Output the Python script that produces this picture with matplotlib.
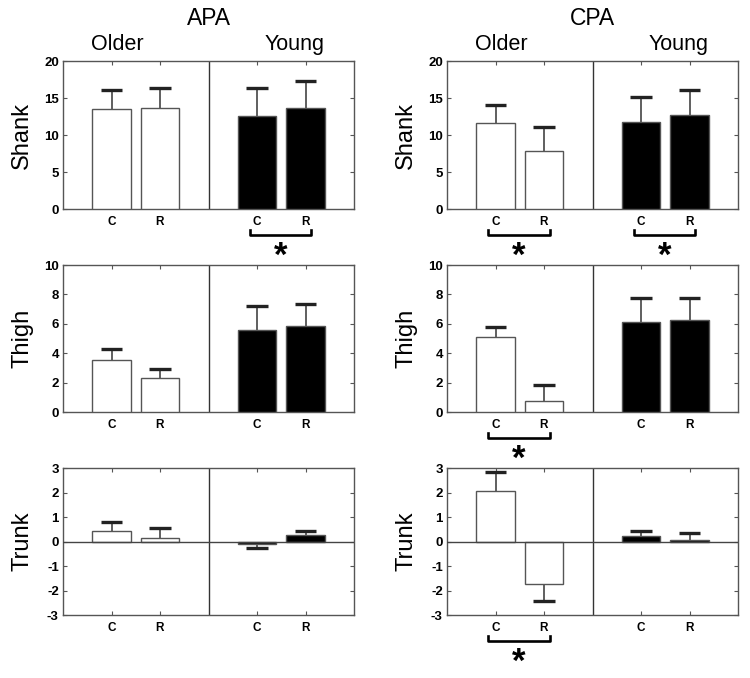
import numpy as np
import matplotlib.pyplot as plt
import matplotlib.transforms as mtransforms

plt.rcParams['font.family'] = ['Liberation Sans', 'DejaVu Sans']
plt.rcParams['axes.unicode_minus'] = False
plt.rcParams['mathtext.fontset'] = 'custom'
plt.rcParams['mathtext.it'] = 'Liberation Sans:bold'
plt.rcParams['mathtext.rm'] = 'Liberation Sans:bold'

groups = ['Older', 'Young']
conditions = ['C', 'R']
segments = ['Shank', 'Thigh', 'Trunk']
phases = ['APA', 'CPA']

# bar order: Older C, Older R, Young C, Young R
apa_shank = [13.5, 13.7, 12.6, 13.7]
apa_shank_err = [2.6, 2.6, 3.7, 3.6]
cpa_shank = [11.6, 7.9, 11.8, 12.7]
cpa_shank_err = [2.5, 3.2, 3.35, 3.45]
apa_thigh = [3.55, 2.33, 5.57, 5.84]
apa_thigh_err = [0.73, 0.63, 1.62, 1.49]
cpa_thigh = [5.1, 0.77, 6.1, 6.27]
cpa_thigh_err = [0.66, 1.06, 1.67, 1.49]
apa_trunk = [0.42, 0.14, -0.09, 0.27]
apa_trunk_err = [0.37, 0.41, 0.17, 0.15]
cpa_trunk = [2.05, -1.75, 0.23, 0.08]
cpa_trunk_err = [0.77, 0.68, 0.19, 0.27]

values = {
    ('Shank', 'APA'): (apa_shank, apa_shank_err),
    ('Shank', 'CPA'): (cpa_shank, cpa_shank_err),
    ('Thigh', 'APA'): (apa_thigh, apa_thigh_err),
    ('Thigh', 'CPA'): (cpa_thigh, cpa_thigh_err),
    ('Trunk', 'APA'): (apa_trunk, apa_trunk_err),
    ('Trunk', 'CPA'): (cpa_trunk, cpa_trunk_err),
}
yranges = {'Shank': (0, 20, 5), 'Thigh': (0, 10, 2), 'Trunk': (-3, 3, 1)}

# significant C vs R differences (segment, phase, group)
significant = [('Shank', 'APA', 'Young'), ('Shank', 'CPA', 'Older'),
               ('Shank', 'CPA', 'Young'), ('Thigh', 'CPA', 'Older'),
               ('Trunk', 'CPA', 'Older')]

positions = np.array([1, 2, 4, 5])
fills = ['white', 'white', 'black', 'black']
frame = '#555555'

fig = plt.figure(figsize=(7.5, 6.78), dpi=100)

lefts = [0.084, 0.596]
bottoms = [0.6917, 0.3923, 0.0929]
width = 0.388
heights = [0.2183, 0.2168, 0.2168]
star_drop = [46, 46, 46]  # px below the axis

for r, seg in enumerate(segments):
    for c, ph in enumerate(phases):
        ax = fig.add_axes([lefts[c], bottoms[r], width, heights[r]])
        vals, errs = values[(seg, ph)]
        vals = np.array(vals)
        errs = np.array(errs)

        ax.bar(positions, vals, width=0.8, color=fills, edgecolor=frame,
               linewidth=1.0, zorder=3)
        tips = vals + np.sign(vals) * errs
        ax.vlines(positions, vals, tips, color='#444444', linewidth=1.2, zorder=2)
        ax.hlines(tips, positions - 0.22, positions + 0.22, color='#222222',
                  linewidth=2.4, zorder=2)

        lo, hi, step = yranges[seg]
        ax.set_ylim(lo, hi)
        ax.set_yticks(np.arange(lo, hi + step / 2, step))
        ax.set_xlim(0, 6)
        ax.set_xticks(positions)
        ax.set_xticklabels(conditions * 2)
        ax.axvline(3, color='#333333', linewidth=1.0)
        if lo < 0:
            ax.axhline(0, color='#444444', linewidth=1.0, zorder=4)

        for s in ax.spines.values():
            s.set_color(frame)
            s.set_linewidth(1.0)
        ax.tick_params(direction='in', length=3, width=0.8, color=frame,
                       top=True, right=True, pad=3)
        ax.tick_params(axis='x', pad=5)
        for lab in ax.get_xticklabels():
            lab.set_fontsize(8.5)
            lab.set_fontweight('bold')
        for lab in ax.get_yticklabels():
            lab.set_fontsize(9.5)
            lab.set_fontweight('bold')

        ax.text(-0.14, 0.5, seg, rotation=90, transform=ax.transAxes,
                ha='center', va='center', fontsize=17)

        if r == 0:
            ax.text(0.5, 1.29, ph, transform=ax.transAxes, ha='center',
                    va='center', fontsize=16.5)
            ax.text(0.186, 1.11, groups[0], transform=ax.transAxes,
                    ha='center', va='center', fontsize=15.5)
            ax.text(0.797, 1.11, groups[1], transform=ax.transAxes,
                    ha='center', va='center', fontsize=15.5)

        # significance brackets below the axis
        trans = mtransforms.blended_transform_factory(ax.transData, ax.transAxes)
        hpx = heights[r] * 678
        for s_seg, s_ph, s_grp in significant:
            if s_seg != seg or s_ph != ph:
                continue
            g = groups.index(s_grp)
            x0 = positions[2 * g] - 0.15
            x1 = positions[2 * g + 1] + 0.12
            yb = -26 / hpx
            yt = -21 / hpx
            ax.plot([x0, x0, x1, x1], [yt, yb, yb, yt], color='black',
                    linewidth=1.9, transform=trans, clip_on=False)
            ax.text((x0 + x1) / 2, -star_drop[r] / hpx, '$*$', transform=trans,
                    ha='center', va='center', fontsize=25)

fig.savefig('out.png', dpi=100)
